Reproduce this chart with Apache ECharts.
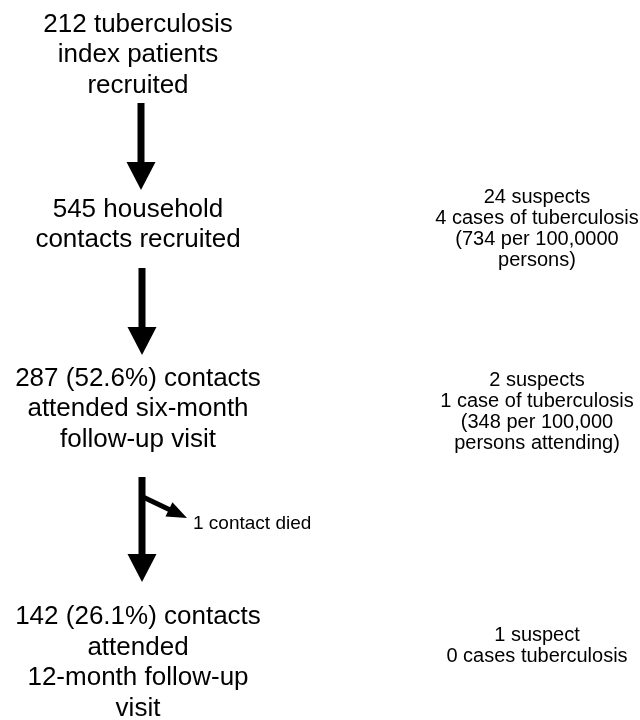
<!DOCTYPE html>
<html>
<head>
<meta charset="utf-8">
<script src="https://cdn.jsdelivr.net/npm/echarts@6/dist/echarts.min.js"></script>
<style>
  html, body { margin: 0; padding: 0; background: #fff; }
  #flow { width: 640px; height: 720px; }
</style>
</head>
<body>
<div id="flow"></div>
<script>
    // texts of the flow diagram
    const stageText = [
        '212 tuberculosis\nindex patients\nrecruited',
        '545 household\ncontacts recruited',
        '287 (52.6%) contacts\nattended six-month\nfollow-up visit',
        '142 (26.1%) contacts\nattended\n12-month follow-up\nvisit'
    ];
    const outcomeText = [
        '24 suspects\n4 cases of tuberculosis\n(734 per 100,0000\npersons)',
        '2 suspects\n1 case of tuberculosis\n(348 per 100,000\npersons attending)',
        '1 suspect\n0 cases tuberculosis'
    ];
    const lossText = ['1 contact died'];

    // layout (canvas units, y downwards)
    const stageX = 138;
    const stageY = [55, 225, 409, 663];
    const outcomeX = 537;
    const outcomeY = [229, 412, 646];
    const lossPos = [193, 524];
    // arrows: from x,y to tip x,y
    const arrowPaths = [
        [141, 103, 141, 190],
        [142, 268, 142, 355],
        [142, 477, 142, 582],
        [143, 497, 187, 518]
    ];
    const arrowLook = [
        { w: 7, head: 28, spread: 29 },
        { w: 7, head: 28, spread: 29 },
        { w: 7, head: 28, spread: 29 },
        { w: 5, head: 20, spread: 16 }
    ];

    const ink = '#000';
    const font = 'Liberation Sans, Arial, sans-serif';

    const chart = echarts.init(document.getElementById('flow'));

    const textSeries = function (items, xs, ys, size, lh, align) {
        return {
            type: 'scatter',
            silent: true,
            symbolSize: 1,
            itemStyle: { color: 'rgba(0,0,0,0)' },
            label: {
                show: true,
                position: 'inside',
                formatter: '{b}',
                color: ink,
                opacity: 1,
                textBorderWidth: 0,
                fontFamily: font,
                fontSize: size,
                lineHeight: lh,
                align: align || 'center',
                verticalAlign: 'middle'
            },
            data: items.map((t, i) => ({ name: t, value: [xs[i], ys[i]] }))
        };
    };

    const option = {
        animation: false,
        grid: { left: 0, right: 0, top: 0, bottom: 0 },
        xAxis: { type: 'value', min: 0, max: 640, show: false },
        yAxis: { type: 'value', min: 0, max: 720, inverse: true, show: false },
        series: [
            textSeries(stageText, stageText.map(() => stageX), stageY, 26, 30.5),
            textSeries(outcomeText, outcomeText.map(() => outcomeX), outcomeY, 20, 21.3),
            textSeries(lossText, [lossPos[0]], [lossPos[1]], 19, 21, 'left'),
            {
                type: 'custom',
                silent: true,
                data: arrowPaths,
                renderItem: function (params, api) {
                    const look = arrowLook[params.dataIndex];
                    const p0 = api.coord([api.value(0), api.value(1)]);
                    const p1 = api.coord([api.value(2), api.value(3)]);
                    const dx = p1[0] - p0[0], dy = p1[1] - p0[1];
                    const len = Math.sqrt(dx * dx + dy * dy);
                    const ux = dx / len, uy = dy / len;
                    const bx = p1[0] - ux * look.head, by = p1[1] - uy * look.head;
                    const nx = -uy * look.spread / 2, ny = ux * look.spread / 2;
                    return {
                        type: 'group',
                        children: [
                            {
                                type: 'line',
                                shape: { x1: p0[0], y1: p0[1], x2: bx + ux * 2, y2: by + uy * 2 },
                                style: { stroke: '#000', lineWidth: look.w }
                            },
                            {
                                type: 'polygon',
                                shape: { points: [[p1[0], p1[1]], [bx + nx, by + ny], [bx - nx, by - ny]] },
                                style: { fill: '#000' }
                            }
                        ]
                    };
                }
            }
        ]
    };
    chart.setOption(option);
</script>
</body>
</html>
